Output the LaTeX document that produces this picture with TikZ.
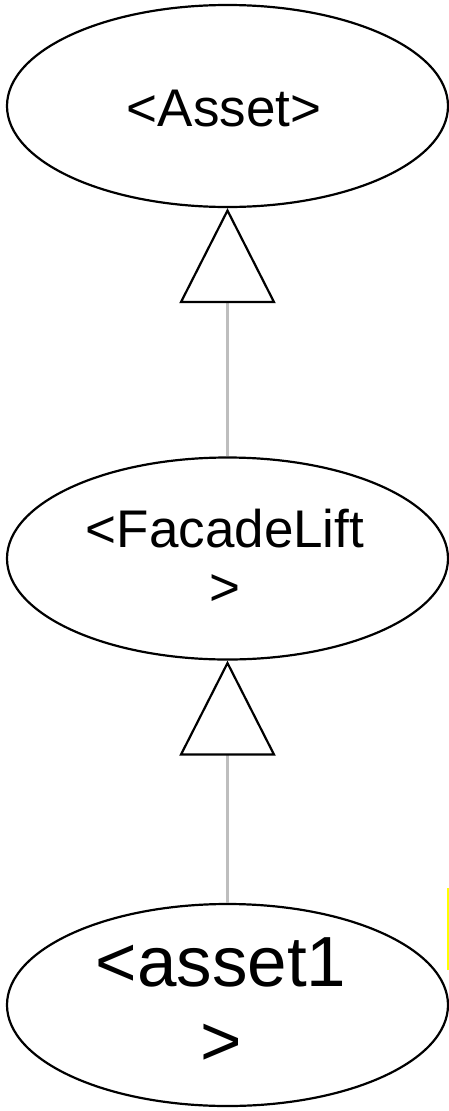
\documentclass[tikz,border=0pt]{standalone}
\usepackage{fontspec}
\setmainfont{Liberation Sans}
\usetikzlibrary{shapes.geometric,arrows.meta}
\definecolor{linkgray}{HTML}{BEBEBE}
\definecolor{markyellow}{HTML}{FFFF00}
\tikzset{
  classell/.style={draw=black, line width=2.2pt, ellipse, minimum width=441pt, minimum height=202pt, inner sep=0pt},
  txtbig/.style={align=center, inner sep=0pt, font=\fontsize{53}{58}\selectfont},
  txthuge/.style={align=center, inner sep=0pt, font=\fontsize{71}{79}\selectfont},
  inherit/.style={draw=linkgray, line width=3.2pt, -{Triangle[open, length=95pt, width=96pt, color=black, line width=2.2pt]}}
}
\begin{document}
\begin{tikzpicture}[x=1pt, y=-1pt]
\useasboundingbox (0,0) rectangle (449,1111);
\node[classell] (e1) at (227.5,106) {};
\node[classell] (e2) at (227.5,558.5) {};
\node[classell] (e3) at (227.5,1005) {};
\node[txtbig] (t1) at (224,109) {<Asset>};
\node[txtbig] (t2) at (225,557) {<FacadeLift\\>};
\node[txthuge] (t3) at (221,1002) {<asset1\\>};
\draw[inherit] (e2.north) -- (e1.south);
\draw[inherit] (e3.north) -- (e2.south);
\coordinate (y1) at (448,888);
\coordinate (y2) at (448,970);
\draw[markyellow, line width=2pt] (y1) -- (y2);
\end{tikzpicture}
\end{document}
